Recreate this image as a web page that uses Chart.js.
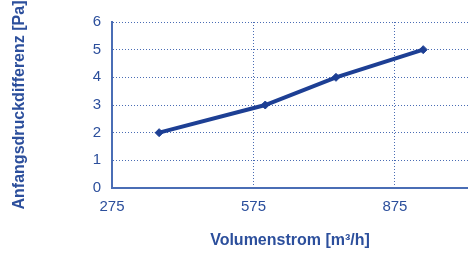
<!DOCTYPE html>
<html>
<head>
<meta charset="utf-8">
<script src="https://cdn.jsdelivr.net/npm/chart.js@4/dist/chart.umd.min.js"></script>
<style>
  html, body { margin: 0; padding: 0; background: #fff; }
  #wrap { width: 468px; height: 254px; }
</style>
</head>
<body>
<div id="wrap"><canvas id="chart"></canvas></div>
<script>
// data
const volumenstrom = [375, 600, 750, 935];
const druckdifferenz = [2, 3, 4, 5];
const xTicks = [275, 575, 875];

const textColor = '#2c4f9c';
const lineColor = '#1d3f94';
const gridColor = '#4a6cb4';
const font = { family: '"Liberation Sans", Arial, sans-serif', size: 15 };
const titleFont = { family: font.family, size: 16, weight: 'bold' };

new Chart(document.getElementById('chart'), {
  type: 'scatter',
  data: {
    datasets: [{
      data: volumenstrom.map((x, i) => ({ x: x, y: druckdifferenz[i] })),
      showLine: true,
      borderColor: lineColor,
      backgroundColor: lineColor,
      borderWidth: 4,
      pointStyle: 'rectRot',
      pointRadius: 4,
      pointBorderWidth: 1,
      pointHoverRadius: 4
    }]
  },
  options: {
    responsive: true,
    maintainAspectRatio: false,
    animation: false,
    layout: { autoPadding: false, padding: { top: 22, right: 0, left: 0, bottom: 0 } },
    plugins: { legend: { display: false }, tooltip: { enabled: false } },
    scales: {
      x: {
        type: 'linear',
        min: 275,
        max: 1030,
        afterBuildTicks: (axis) => { axis.ticks = xTicks.map(v => ({ value: v })); },
        afterFit: (axis) => { axis.height = 66; },
        grid: { color: gridColor, drawTicks: false, lineWidth: 1 },
        border: { color: '#4a6db5', width: 2, dash: [1, 2] },
        ticks: { color: textColor, font: font, padding: 10, maxRotation: 0 },
        title: {
          display: true,
          text: 'Volumenstrom [m³/h]',
          color: textColor,
          font: titleFont,
          padding: { top: 21 }
        }
      },
      y: {
        min: 0,
        max: 6,
        afterFit: (axis) => { axis.width = 112; },
        grid: { color: gridColor, drawTicks: false, lineWidth: 1 },
        border: { color: '#4a6db5', width: 2, dash: [1, 2] },
        ticks: { stepSize: 1, color: textColor, font: font, padding: 11 },
        title: {
          display: true,
          text: 'Anfangsdruckdifferenz [Pa]',
          color: textColor,
          font: titleFont,
          padding: { top: 10, bottom: 0 }
        }
      }
    }
  }
});
</script>
</body>
</html>
